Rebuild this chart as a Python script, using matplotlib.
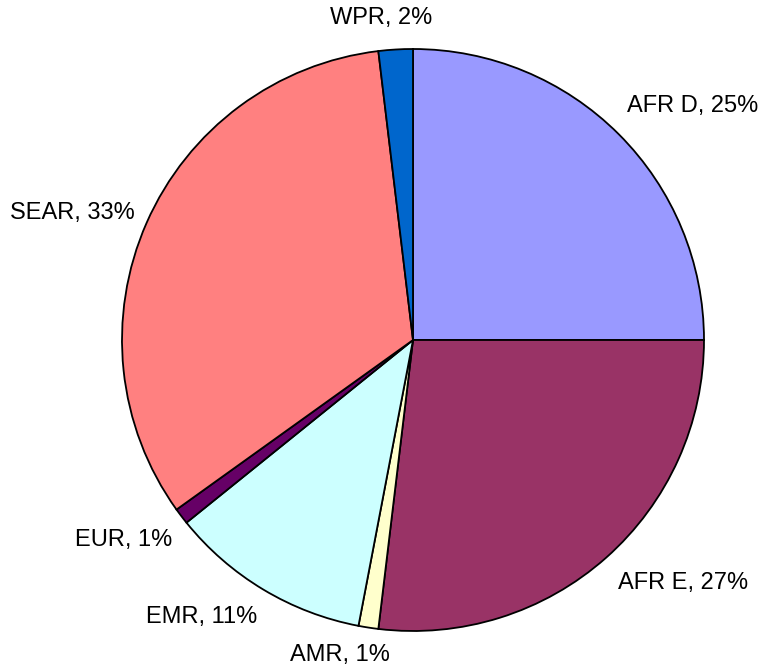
import matplotlib
matplotlib.use("Agg")
import matplotlib.pyplot as plt

categories = ["AFR D", "AFR E", "AMR", "EMR", "EUR", "SEAR", "WPR"]
values = [25.0, 26.9, 1.1, 11.2, 0.9, 33.0, 1.9]
pct_labels = ["25%", "27%", "1%", "11%", "1%", "33%", "2%"]
colors = ["#9999FF", "#993366", "#FFFFCC", "#CCFFFF", "#660066", "#FF8080", "#0066CC"]

# label centre positions in pixels (x, y from top)
label_px = [(693, 106), (683, 583), (340, 655), (202, 617), (124, 540), (72, 213), (381, 18)]

W, H = 765, 672
cx, cy, R = 413, 340, 291

fig = plt.figure(figsize=(W / 100, H / 100), dpi=100)
ax = fig.add_axes([(cx - R) / W, (H - cy - R) / H, 2 * R / W, 2 * R / H])
ax.pie(values, colors=colors, startangle=90, counterclock=False,
       wedgeprops=dict(edgecolor="black", linewidth=1.3), radius=1.0)
ax.set_xlim(-1, 1)
ax.set_ylim(-1, 1)
ax.set_aspect("equal")
ax.axis("off")

for cat, pl, (px, py) in zip(categories, pct_labels, label_px):
    x = (px - cx) / R
    y = (cy - py) / R
    ax.text(x, y, f"{cat}, {pl}", ha="center", va="center",
            fontsize=17, family=["Liberation Sans", "DejaVu Sans"], clip_on=False)

fig.savefig("out.png", dpi=100, facecolor="white")
